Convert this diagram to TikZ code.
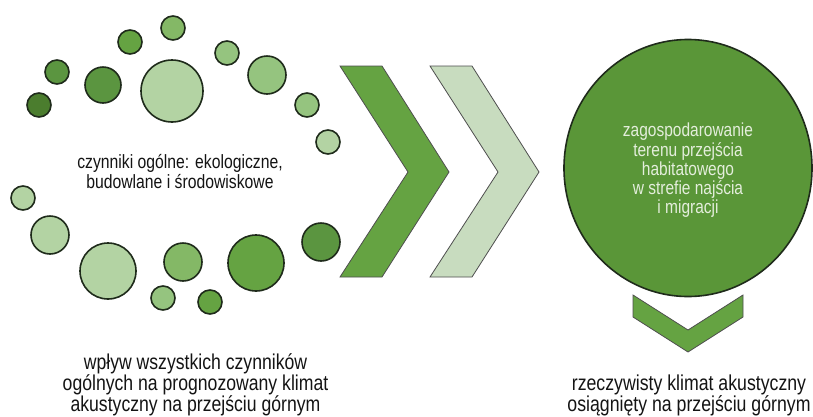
\documentclass[tikz,border=0pt]{standalone}
\usepackage{fontspec}
\setmainfont{Liberation Sans}
\newfontfamily\narrowsans[FakeStretch=0.82]{Liberation Sans}
\usetikzlibrary{shapes.geometric}
\begin{document}
\begin{tikzpicture}[x=1pt,y=-1pt,
  dot/.style={circle,draw=dotline,line width=1.6pt,inner sep=0pt,minimum size=#1},
  chev/.style={draw=chevline,line width=0.8pt,line join=miter},
  caption/.style={align=center,inner sep=0pt,text=black!92},
  inner/.style={align=center,inner sep=0pt,text=innertext,font=\narrowsans\fontsize{18.9}{19.3}\selectfont}]
\definecolor{dotline}{HTML}{1F2B1B}
\definecolor{chevline}{HTML}{4E4E4E}
\definecolor{gA}{HTML}{4B7D2E}
\definecolor{gB}{HTML}{5B9540}
\definecolor{gC}{HTML}{65A342}
\definecolor{gD}{HTML}{84B866}
\definecolor{gE}{HTML}{95C47F}
\definecolor{gF}{HTML}{B3D3A3}
\definecolor{chevlight}{HTML}{C8DCBF}
\definecolor{bigfill}{HTML}{5A9638}
\definecolor{innertext}{HTML}{E4EEDC}
\useasboundingbox (0,0) rectangle (813,416);
\fill[white] (0,0) rectangle (813,416);

% ring of factor circles
\node[dot=24pt,fill=gB] (d1) at (57,72) {};
\node[dot=24pt,fill=gA] (d2) at (39,105) {};
\node[dot=36pt,fill=gB] (d3) at (103,85) {};
\node[dot=24pt,fill=gC] (d4) at (130,42) {};
\node[dot=24pt,fill=gD] (d5) at (173,28) {};
\node[dot=62pt,fill=gF] (d6) at (172,91) {};
\node[dot=24pt,fill=gE] (d7) at (227,53) {};
\node[dot=38pt,fill=gE] (d8) at (267,75) {};
\node[dot=24pt,fill=gE] (d9) at (307,105) {};
\node[dot=24pt,fill=gF] (d10) at (328,142) {};
\node[dot=24pt,fill=gF] (d11) at (23,198) {};
\node[dot=38pt,fill=gF] (d12) at (50,235) {};
\node[dot=56pt,fill=gF] (d13) at (108,271) {};
\node[dot=38pt,fill=gD] (d14) at (183,262) {};
\node[dot=24pt,fill=gE] (d15) at (163,298) {};
\node[dot=24pt,fill=gC] (d16) at (210,302) {};
\node[dot=56pt,fill=gC] (d17) at (256,263) {};
\node[dot=38pt,fill=gB] (d18) at (321,242) {};

\node[caption,font=\narrowsans\fontsize{19.2}{20}\selectfont] (general) at (180,171.3)
  {czynniki ogólne: ekologiczne,\\budowlane i środowiskowe};

% two right-pointing chevrons
\draw[chev,fill=gC] (340,66) -- (382,66) -- (449,172) -- (382,277) -- (340,277) -- (408,172) -- cycle;
\draw[chev,fill=chevlight] (430,66) -- (472,66) -- (539,172) -- (472,277) -- (430,277) -- (498,172) -- cycle;

% result circle
\node[ellipse,draw=dotline,line width=1.6pt,fill=bigfill,minimum width=248pt,minimum height=257pt,inner sep=0pt] (site) at (688,168) {};
\node[inner] (sitetext) at (688,170.5)
  {zagospodarowanie\\terenu przejścia\\habitatowego\\w strefie najścia\\i migracji};

% downward chevron
\draw[chev,fill=gC] (633,295) -- (688,330) -- (743,295) -- (743,317) -- (688,352) -- (633,317) -- cycle;

\node[caption,font=\narrowsans\fontsize{21.5}{21}\selectfont] (forecast) at (195.5,384.4)
  {wpływ wszystkich czynników\\ogólnych na prognozowany klimat\\akustyczny na przejściu górnym};
\node[caption,font=\narrowsans\fontsize{21.6}{18.5}\selectfont] (actual) at (689,395.2)
  {rzeczywisty klimat akustyczny\\osiągnięty na przejściu górnym};
\end{tikzpicture}
\end{document}
